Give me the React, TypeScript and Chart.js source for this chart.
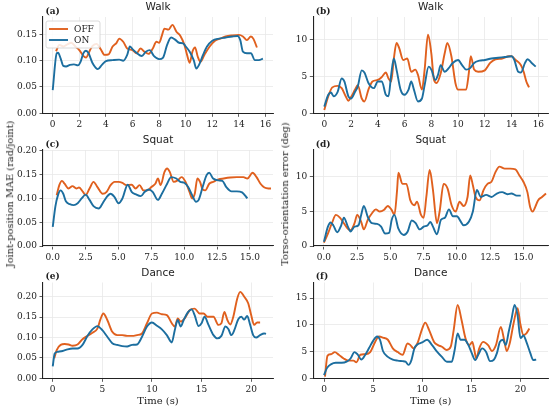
import React, { useEffect, useRef } from "react";
import { Chart, registerables } from "chart.js";

Chart.register(...registerables);

// ---------------- data (time s, value) ----------------
const walkJointOn: number[][] = [[0,0.044],[0.3,0.114],[0.4,0.115],[0.6,0.104],[0.8,0.09],[1.0,0.089],[1.3,0.092],[1.6,0.093],[1.9,0.091],[2.1,0.098],[2.3,0.114],[2.5,0.119],[2.7,0.114],[3.0,0.095],[3.4,0.084],[3.7,0.092],[4.0,0.099],[4.5,0.101],[5.0,0.102],[5.3,0.1],[5.6,0.111],[5.8,0.127],[6.0,0.122],[6.3,0.115],[6.7,0.109],[7.0,0.117],[7.3,0.12],[7.6,0.109],[8.0,0.103],[8.3,0.106],[8.6,0.13],[8.9,0.144],[9.2,0.14],[9.5,0.134],[9.8,0.133],[10.0,0.127],[10.3,0.117],[10.6,0.101],[10.8,0.085],[11.0,0.092],[11.3,0.111],[11.6,0.127],[12.0,0.138],[12.5,0.142],[13.0,0.144],[13.5,0.146],[13.9,0.147],[14.1,0.139],[14.3,0.117],[14.6,0.114],[14.9,0.114],[15.2,0.101],[15.5,0.101],[15.8,0.104]];
const walkJointOff: number[][] = [[0.25,0.118],[0.5,0.13],[0.8,0.127],[1.1,0.131],[1.4,0.134],[1.7,0.127],[2.0,0.12],[2.3,0.109],[2.5,0.106],[2.8,0.12],[3.0,0.128],[3.3,0.132],[3.6,0.122],[3.9,0.111],[4.2,0.112],[4.5,0.127],[4.8,0.134],[5.0,0.142],[5.3,0.136],[5.6,0.123],[6.0,0.12],[6.3,0.114],[6.6,0.123],[6.9,0.117],[7.2,0.113],[7.5,0.122],[7.8,0.136],[8.0,0.134],[8.2,0.147],[8.4,0.161],[8.7,0.159],[9.0,0.168],[9.3,0.155],[9.6,0.147],[9.9,0.13],[10.1,0.111],[10.3,0.096],[10.5,0.117],[10.7,0.125],[10.9,0.108],[11.1,0.098],[11.4,0.111],[11.8,0.127],[12.2,0.138],[12.6,0.142],[13.0,0.146],[13.5,0.148],[14.0,0.149],[14.3,0.146],[14.6,0.139],[14.9,0.146],[15.1,0.141],[15.35,0.125]];

const walkTorsoOn: number[][] = [[0,0.9],[0.3,2.5],[0.5,2.8],[0.7,2.3],[1.0,2.9],[1.3,4.7],[1.5,4.3],[1.8,2.3],[2.0,2.0],[2.3,2.9],[2.5,3.6],[2.8,5.8],[3.0,5.5],[3.3,4.1],[3.7,3.4],[4.0,4.3],[4.3,4.3],[4.6,2.5],[4.8,2.3],[5.0,5.2],[5.2,7.4],[5.4,5.9],[5.7,3.2],[6.0,2.5],[6.3,3.2],[6.5,4.3],[6.7,3.2],[7.0,1.6],[7.3,2.0],[7.5,3.8],[7.8,6.3],[8.0,5.9],[8.3,4.5],[8.5,5.2],[8.7,6.5],[9.0,5.6],[9.3,6.1],[9.6,6.8],[10.0,7.2],[10.3,6.5],[10.6,5.9],[10.9,6.1],[11.2,6.8],[11.6,7.1],[12.0,7.2],[12.5,7.4],[13.0,7.5],[13.5,7.6],[14.0,7.7],[14.2,7.2],[14.5,5.6],[14.7,5.5],[15.0,6.8],[15.2,7.3],[15.5,6.8],[15.8,6.3]];
const walkTorsoOff: number[][] = [[0,0.45],[0.3,2.3],[0.6,3.5],[1.0,3.7],[1.3,3.4],[1.6,2.3],[1.8,1.7],[2.0,2.2],[2.3,3.2],[2.5,3.8],[2.8,2.0],[3.0,1.6],[3.3,3.2],[3.6,4.3],[4.0,4.5],[4.3,4.9],[4.6,5.5],[4.8,4.7],[5.0,4.3],[5.2,7.4],[5.4,9.5],[5.6,8.8],[5.9,7.2],[6.2,7.4],[6.5,5.6],[6.8,5.9],[7.0,5.2],[7.3,3.2],[7.5,5.9],[7.75,10.6],[8.0,8.1],[8.2,4.5],[8.4,4.1],[8.7,5.4],[9.0,8.1],[9.2,9.5],[9.5,7.7],[9.8,4.1],[10.0,3.2],[10.3,3.2],[10.6,3.2],[10.8,5.4],[10.95,7.7],[11.2,5.9],[11.5,5.6],[12.0,5.8],[12.4,6.8],[12.8,7.3],[13.3,7.4],[13.8,7.7],[14.0,7.7],[14.3,7.2],[14.7,6.5],[14.9,5.6],[15.1,4.3],[15.3,3.5]];

const squatJointOn: number[][] = [[0,0.04],[0.2,0.083],[0.4,0.107],[0.6,0.117],[0.8,0.11],[1.0,0.094],[1.3,0.088],[1.6,0.086],[1.9,0.09],[2.2,0.1],[2.5,0.108],[2.8,0.097],[3.1,0.084],[3.5,0.079],[3.8,0.09],[4.1,0.103],[4.4,0.11],[4.7,0.103],[5.0,0.09],[5.3,0.1],[5.7,0.129],[6.0,0.114],[6.3,0.109],[6.7,0.105],[7.0,0.114],[7.3,0.119],[7.6,0.114],[8.0,0.097],[8.3,0.11],[8.7,0.131],[9.0,0.145],[9.4,0.142],[9.7,0.135],[10.0,0.133],[10.3,0.124],[10.6,0.107],[10.9,0.093],[11.1,0.097],[11.4,0.124],[11.7,0.149],[11.9,0.154],[12.2,0.142],[12.6,0.138],[12.9,0.137],[13.2,0.124],[13.6,0.115],[14.0,0.115],[14.4,0.113],[14.8,0.1]];
const squatJointOff: number[][] = [[0.3,0.107],[0.5,0.128],[0.7,0.137],[0.9,0.131],[1.2,0.121],[1.5,0.126],[1.8,0.121],[2.0,0.123],[2.3,0.114],[2.5,0.107],[2.8,0.121],[3.1,0.135],[3.4,0.124],[3.8,0.11],[4.1,0.114],[4.4,0.128],[4.7,0.135],[5.0,0.135],[5.3,0.133],[5.6,0.128],[6.0,0.129],[6.3,0.121],[6.6,0.128],[6.9,0.117],[7.2,0.117],[7.5,0.124],[7.8,0.131],[8.0,0.142],[8.2,0.128],[8.5,0.156],[8.7,0.163],[8.9,0.156],[9.2,0.135],[9.5,0.138],[9.8,0.145],[10.1,0.135],[10.4,0.114],[10.6,0.1],[10.8,0.11],[11.0,0.142],[11.2,0.135],[11.4,0.119],[11.6,0.117],[11.9,0.131],[12.2,0.135],[12.6,0.14],[13.0,0.142],[13.5,0.144],[14.0,0.145],[14.5,0.145],[14.8,0.142],[15.2,0.154],[15.5,0.145],[15.8,0.131],[16.1,0.123],[16.4,0.121],[16.6,0.121]];

const squatTorsoOn: number[][] = [[0,0.6],[0.3,2.8],[0.5,3.4],[0.7,3.0],[1.0,2.0],[1.3,3.0],[1.5,4.1],[1.8,2.8],[2.0,2.1],[2.3,2.8],[2.6,3.0],[2.8,4.5],[3.0,5.8],[3.3,4.2],[3.6,3.3],[4.0,3.2],[4.3,2.8],[4.6,1.8],[4.9,1.9],[5.1,3.8],[5.3,4.5],[5.6,2.5],[6.0,1.6],[6.3,2.1],[6.6,3.7],[6.9,3.3],[7.2,2.4],[7.5,2.8],[7.8,3.0],[8.0,3.5],[8.2,2.8],[8.5,1.7],[8.8,3.8],[9.1,4.1],[9.4,5.3],[9.7,4.3],[10.0,4.3],[10.3,3.5],[10.5,3.0],[10.9,3.5],[11.2,5.0],[11.5,8.1],[11.8,7.1],[12.2,7.4],[12.6,7.1],[13.0,7.6],[13.4,7.8],[13.8,7.5],[14.1,7.6],[14.5,7.3],[14.8,7.3]];
const squatTorsoOff: number[][] = [[0,0.5],[0.3,1.8],[0.6,3.3],[0.9,4.5],[1.2,4.1],[1.5,3.3],[1.8,2.5],[2.0,2.3],[2.3,3.3],[2.5,4.5],[2.8,3.5],[3.0,2.4],[3.3,3.8],[3.6,4.7],[3.9,5.3],[4.2,5.0],[4.5,5.2],[4.8,5.8],[5.1,5.2],[5.3,4.5],[5.5,8.1],[5.6,10.6],[5.9,9.0],[6.2,9.0],[6.5,6.6],[6.8,5.9],[7.0,6.4],[7.3,4.5],[7.5,4.1],[7.7,7.1],[7.95,11.0],[8.2,8.1],[8.5,3.3],[8.7,5.0],[9.0,9.0],[9.3,8.3],[9.6,5.9],[9.9,5.0],[10.2,6.4],[10.5,5.8],[10.8,7.1],[11.0,10.2],[11.2,8.8],[11.4,7.1],[11.7,6.6],[12.0,8.1],[12.3,9.0],[12.6,9.3],[12.9,10.7],[13.2,11.5],[13.6,11.2],[14.0,11.2],[14.4,11.1],[14.7,10.2],[15.0,9.3],[15.3,7.8],[15.5,5.7],[15.7,5.0],[15.9,5.7],[16.1,6.6],[16.4,7.1],[16.7,7.6]];

const danceJointOn: number[][] = [[0,0.029],[0.2,0.061],[0.5,0.065],[1.0,0.067],[1.5,0.071],[2.0,0.073],[2.5,0.073],[3.0,0.082],[3.5,0.104],[4.0,0.12],[4.5,0.128],[5.0,0.118],[5.5,0.102],[6.0,0.086],[6.5,0.082],[7.0,0.079],[7.5,0.078],[8.0,0.082],[8.5,0.083],[9.0,0.102],[9.5,0.127],[10.0,0.137],[10.5,0.129],[11.0,0.12],[11.5,0.106],[12.0,0.088],[12.3,0.118],[12.6,0.143],[12.9,0.127],[13.2,0.143],[13.6,0.161],[14.0,0.169],[14.3,0.155],[14.7,0.128],[15.0,0.135],[15.3,0.151],[15.7,0.131],[16.2,0.106],[16.6,0.098],[17.0,0.104],[17.4,0.127],[17.7,0.121],[18.0,0.106],[18.3,0.118],[18.7,0.145],[19.0,0.151],[19.3,0.144],[19.6,0.153],[19.9,0.131],[20.2,0.106],[20.5,0.1],[20.9,0.106],[21.3,0.11],[21.5,0.109]];
const danceJointOff: number[][] = [[0.15,0.049],[0.4,0.069],[0.8,0.082],[1.2,0.084],[1.6,0.083],[2.0,0.08],[2.5,0.083],[3.0,0.096],[3.5,0.104],[4.0,0.112],[4.5,0.122],[4.8,0.144],[5.1,0.159],[5.5,0.143],[6.0,0.114],[6.5,0.106],[7.0,0.106],[7.5,0.104],[8.0,0.104],[8.5,0.106],[9.0,0.11],[9.5,0.135],[10.0,0.159],[10.5,0.161],[11.0,0.157],[11.5,0.155],[12.0,0.135],[12.3,0.127],[12.6,0.147],[12.9,0.139],[13.3,0.147],[13.8,0.167],[14.3,0.171],[14.8,0.159],[15.2,0.159],[15.6,0.151],[16.2,0.151],[16.7,0.131],[17.0,0.135],[17.3,0.163],[17.6,0.143],[17.9,0.132],[18.2,0.151],[18.6,0.196],[18.9,0.212],[19.3,0.2],[19.7,0.184],[20.0,0.155],[20.3,0.131],[20.6,0.137],[20.9,0.137]];

const danceTorsoOn: number[][] = [[0,0.6],[0.3,1.9],[0.7,2.6],[1.2,2.9],[1.8,2.9],[2.3,3.1],[2.7,3.7],[3.1,4.9],[3.4,4.5],[3.8,3.5],[4.2,4.4],[4.6,5.7],[5.0,7.0],[5.4,7.8],[5.7,7.2],[6.0,5.1],[6.5,4.0],[7.0,3.5],[7.5,3.3],[8.0,3.2],[8.3,3.1],[8.6,2.5],[8.9,3.4],[9.2,5.6],[9.5,6.3],[10.0,6.7],[10.5,7.2],[11.0,6.2],[11.5,5.0],[12.0,4.0],[12.5,3.1],[13.0,3.1],[13.3,5.3],[13.6,8.4],[13.9,7.2],[14.3,7.2],[14.7,6.2],[15.0,4.9],[15.4,3.4],[15.7,4.4],[16.1,5.6],[16.5,4.9],[16.9,3.2],[17.3,3.5],[17.6,4.7],[17.9,6.8],[18.2,7.2],[18.5,6.2],[18.8,8.7],[19.1,11.2],[19.4,13.7],[19.7,11.8],[20.0,7.5],[20.3,8.0],[20.6,6.8],[21.0,4.7],[21.3,3.4],[21.6,3.5]];
const danceTorsoOff: number[][] = [[0.1,0.3],[0.35,4.2],[0.7,4.5],[1.1,4.9],[1.5,4.4],[2.0,3.7],[2.5,3.3],[3.0,3.3],[3.3,3.0],[3.7,4.4],[4.2,4.5],[4.7,4.9],[5.2,6.8],[5.6,7.8],[6.0,7.6],[6.5,7.2],[7.0,5.6],[7.5,4.9],[8.0,4.4],[8.5,6.5],[8.8,6.2],[9.1,5.6],[9.5,6.5],[10.0,9.3],[10.3,10.4],[10.7,9.0],[11.2,6.8],[11.6,6.2],[12.0,5.9],[12.5,5.3],[12.9,5.9],[13.2,9.0],[13.6,13.7],[14.0,10.9],[14.4,7.5],[14.8,6.2],[15.1,6.8],[15.3,5.3],[15.5,3.7],[15.8,5.6],[16.2,6.8],[16.7,6.2],[17.1,5.1],[17.5,6.2],[18.0,9.6],[18.3,7.5],[18.6,5.1],[18.9,6.5],[19.3,10.3],[19.7,13.1],[20.0,10.0],[20.3,8.1],[20.6,8.4],[20.9,9.3]];

const seriesLabels = ["OFF", "ON"];
const panelTitles = ["Walk", "Walk", "Squat", "Squat", "Dance", "Dance"];
const panelTags = ["(a)", "(b)", "(c)", "(d)", "(e)", "(f)"];
const yLabelLeft = "Joint-position MAE (rad/joint)";
const yLabelRight = "Torso-orientation error (deg)";
const xLabel = "Time (s)";

const ORANGE = "#E0601E";
const BLUE = "#1C6E9F";

type Panel = {
  on: number[][]; off: number[][];
  xmin: number; xmax: number; xstep: number; xdec: number;
  ymax: number; ystep: number; ydec: number;
  left: number; top: number; w: number; h: number;
  L: number; T: number; R: number; B: number;
  legend: boolean; xtitle: boolean;
};

const colBox = [[0, 275], [275, 275]];
const rowBox = [[0, 131], [131, 134], [265, 144]];
const colArea = [[43, 273], [313.3, 548]];
const rowArea = [[17, 113.3], [150, 246], [282.5, 378.3]];

const panels: Panel[] = [
  { on: walkJointOn, off: walkJointOff, xmin: -0.73, xmax: 16.56, xstep: 2, xdec: 0, ymax: 0.183, ystep: 0.05, ydec: 2 },
  { on: walkTorsoOn, off: walkTorsoOff, xmin: -0.82, xmax: 16.72, xstep: 2, xdec: 0, ymax: 13.0, ystep: 5, ydec: 0 },
  { on: squatJointOn, off: squatJointOff, xmin: -0.74, xmax: 16.75, xstep: 2.5, xdec: 1, ymax: 0.202, ystep: 0.05, ydec: 2 },
  { on: squatTorsoOn, off: squatTorsoOff, xmin: -0.8, xmax: 16.85, xstep: 2.5, xdec: 1, ymax: 13.9, ystep: 5, ydec: 0 },
  { on: danceJointOn, off: danceJointOff, xmin: -0.98, xmax: 22.2, xstep: 5, xdec: 0, ymax: 0.235, ystep: 0.05, ydec: 2 },
  { on: danceTorsoOn, off: danceTorsoOff, xmin: -1.09, xmax: 22.8, xstep: 5, xdec: 0, ymax: 17.9, ystep: 5, ydec: 0 },
].map((p, i) => {
  const c = i % 2, r = Math.floor(i / 2);
  return {
    ...p,
    left: colBox[c][0], w: colBox[c][1], top: rowBox[r][0], h: rowBox[r][1],
    L: colArea[c][0], R: colArea[c][1], T: rowArea[r][0], B: rowArea[r][1],
    legend: i === 0, xtitle: r === 2,
  } as Panel;
});

const SERIF = "'DejaVu Serif', serif";
const SANS = "'DejaVu Sans', sans-serif";

function PanelChart({ p, idx }: { p: Panel; idx: number }) {
  const ref = useRef<HTMLCanvasElement | null>(null);
  useEffect(() => {
    if (!ref.current) return;
    const textPlugin = {
      id: "panelText",
      afterDraw(chart: any) {
        const ctx = chart.ctx as CanvasRenderingContext2D;
        const a = chart.chartArea;
        ctx.save();
        ctx.fillStyle = "#222";
        ctx.textBaseline = "middle";
        ctx.font = `10.5px ${SANS}`;
        ctx.textAlign = "center";
        ctx.fillText(panelTitles[idx], (a.left + a.right) / 2, a.top - 9.5);
        ctx.font = `bold 9px ${SERIF}`;
        ctx.textAlign = "left";
        ctx.fillText(panelTags[idx], a.left + 2.5, a.top - 5.5);
        if (p.xtitle) {
          ctx.font = `10px ${SERIF}`;
          ctx.textAlign = "center";
          ctx.fillText(xLabel, (a.left + a.right) / 2, a.bottom + 23.5);
        }
        if (p.legend) {
          const bx = a.left + 3, by = a.top + 4, bw = 54, bh = 27;
          ctx.fillStyle = "rgba(255,255,255,0.85)";
          ctx.strokeStyle = "#d0d0d0";
          ctx.lineWidth = 0.8;
          ctx.beginPath();
          (ctx as any).roundRect(bx, by, bw, bh, 2);
          ctx.fill();
          ctx.stroke();
          const cols = [ORANGE, BLUE];
          seriesLabels.forEach((lab, k) => {
            const yy = by + 8 + k * 11;
            ctx.strokeStyle = cols[k];
            ctx.lineWidth = 1.9;
            ctx.beginPath();
            ctx.moveTo(bx + 3, yy);
            ctx.lineTo(bx + 22, yy);
            ctx.stroke();
            ctx.fillStyle = "#222";
            ctx.font = `9px ${SERIF}`;
            ctx.textAlign = "left";
            ctx.fillText(lab, bx + 28, yy + 0.5);
          });
        }
        ctx.restore();
      },
    };
    const toXY = (arr: number[][]) => arr.map(([x, y]) => ({ x, y }));
    const yWidth = p.L - p.left;
    const xHeight = p.top + p.h - p.B;
    const chart = new Chart(ref.current, {
      type: "line",
      data: {
        datasets: [
          { label: seriesLabels[1], data: toXY(p.on), borderColor: BLUE, borderWidth: 1.9, pointRadius: 0, cubicInterpolationMode: "monotone", order: 0 },
          { label: seriesLabels[0], data: toXY(p.off), borderColor: ORANGE, borderWidth: 1.9, pointRadius: 0, cubicInterpolationMode: "monotone", order: 1 },
        ],
      } as any,
      options: {
        animation: false,
        responsive: false,
        maintainAspectRatio: false,
        devicePixelRatio: 1,
        layout: { padding: { left: 0, top: p.T - p.top, right: p.left + p.w - p.R, bottom: 0 } },
        plugins: { legend: { display: false }, tooltip: { enabled: false }, title: { display: false } },
        scales: {
          x: {
            type: "linear",
            min: p.xmin, max: p.xmax,
            afterFit: (s: any) => { s.height = xHeight; },
            ticks: {
              stepSize: p.xstep, includeBounds: false, autoSkip: false, maxRotation: 0,
              padding: 2.5, color: "#222", font: { family: SERIF, size: 9 },
              callback: (v: any) => Number(v).toFixed(p.xdec),
            },
            grid: { color: "#e9e9e9", lineWidth: 0.8, drawTicks: true, tickLength: 3.5, tickColor: "#333", tickWidth: 0.8 },
            border: { display: true, color: "#222", width: 1.1 },
          },
          y: {
            type: "linear",
            min: 0, max: p.ymax,
            afterFit: (s: any) => { s.width = yWidth; },
            ticks: {
              stepSize: p.ystep, includeBounds: false, autoSkip: false,
              padding: 2.5, color: "#222", font: { family: SERIF, size: 9 },
              callback: (v: any) => Number(v).toFixed(p.ydec),
            },
            grid: { color: "#e9e9e9", lineWidth: 0.8, drawTicks: true, tickLength: 3.5, tickColor: "#333", tickWidth: 0.8 },
            border: { display: true, color: "#222", width: 1.1 },
          },
        },
      } as any,
      plugins: [textPlugin],
    });
    return () => chart.destroy();
  }, [p, idx]);
  return (
    <canvas
      ref={ref}
      width={p.w}
      height={p.h}
      style={{ position: "absolute", left: p.left, top: p.top, width: p.w, height: p.h }}
    />
  );
}

const labelStyle = (cx: number, cy: number): React.CSSProperties => ({
  position: "absolute",
  left: cx,
  top: cy,
  transform: "translate(-50%, -50%) rotate(-90deg)",
  whiteSpace: "nowrap",
  fontFamily: SERIF,
  fontSize: "9.8px",
  color: "#222",
  lineHeight: 1,
});

export default function App() {
  return (
    <div style={{ position: "absolute", left: 0, top: 0, width: 550, height: 409, background: "#fff", overflow: "hidden" }}>
      {panels.map((p, i) => (
        <PanelChart key={i} p={p} idx={i} />
      ))}
      <div style={labelStyle(10, 194)}>{yLabelLeft}</div>
      <div style={labelStyle(285, 194)}>{yLabelRight}</div>
    </div>
  );
}
